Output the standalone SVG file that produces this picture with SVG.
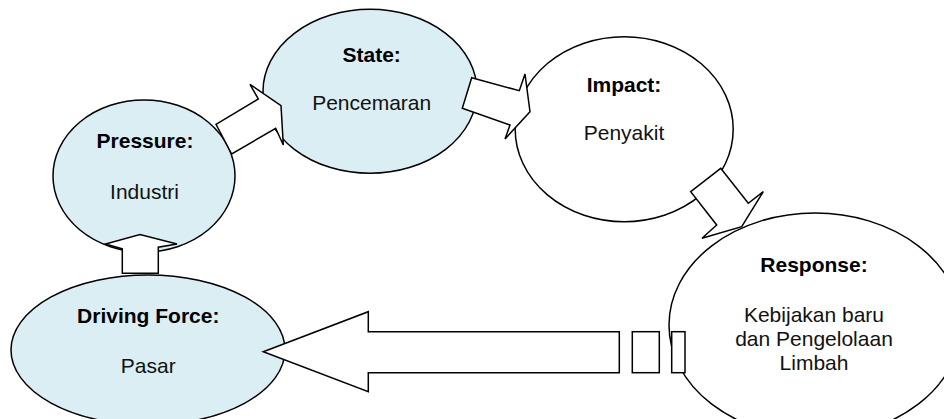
<svg xmlns="http://www.w3.org/2000/svg" width="944" height="419" viewBox="0 0 944 419">
  <style>
    .blue { fill: #DBEEF4; stroke: #000; stroke-width: 1.5; }
    .white { fill: #FFFFFF; stroke: #000; stroke-width: 1.5; }
    .arrow { fill: #FFFFFF; stroke: #000; stroke-width: 1.5; stroke-linejoin: miter; }
    .lbl { font-family: "Liberation Sans", Arial, sans-serif; font-size: 21px; font-weight: bold; fill: #000; text-anchor: middle; }
    .val { font-family: "Liberation Sans", Arial, sans-serif; font-size: 21px; fill: #111; text-anchor: middle; }
  </style>
  <rect x="0" y="0" width="944" height="419" fill="#FFFFFF"/>

  <g id="node-pressure">
    <ellipse class="blue" cx="144" cy="176" rx="91" ry="76"/>
    <text class="lbl" x="145" y="148">Pressure:</text>
    <text class="val" x="144.5" y="199">Industri</text>
  </g>

  <g id="node-state">
    <ellipse class="blue" cx="370" cy="91.3" rx="107" ry="82"/>
    <text class="lbl" x="371.7" y="61.7">State:</text>
    <text class="val" x="371.7" y="110">Pencemaran</text>
  </g>

  <g id="node-impact">
    <ellipse class="white" cx="624.2" cy="129.2" rx="109" ry="92.5"/>
    <text class="lbl" x="624" y="91.7">Impact:</text>
    <text class="val" x="624" y="140">Penyakit</text>
  </g>

  <g id="node-response">
    <ellipse class="white" cx="815" cy="325" rx="146" ry="112"/>
    <text class="lbl" x="814" y="271.7">Response:</text>
    <text class="val" x="814" y="321.5">Kebijakan baru</text>
    <text class="val" x="814" y="345.5">dan Pengelolaan</text>
    <text class="val" x="814" y="369.5">Limbah</text>
  </g>

  <g id="node-driving-force">
    <ellipse class="blue" cx="148" cy="350" rx="137" ry="75"/>
    <text class="lbl" x="148.3" y="323.3">Driving Force:</text>
    <text class="val" x="148.3" y="372.7">Pasar</text>
  </g>

  <g id="connectors">
    <polygon id="arrow-pressure-state" class="arrow" points="216,124.3 258.3,99 250,84.3 281,105.7 283.3,145 275.7,128.3 231.7,154"/>
    <polygon id="arrow-state-impact" class="arrow" points="471.7,77.7 519.3,90.7 525,74 530,111.7 505,139 510,125 462.3,108.3"/>
    <polygon id="arrow-impact-response" class="arrow" points="720.7,168.3 748.3,203.3 763.3,191.7 741.7,226.7 702,238.3 716.7,225 690.7,191.7"/>
    <polygon id="arrow-driving-pressure" class="arrow" points="122.3,273.3 122.3,248.8 105.5,244 140,234.5 177,244 158.3,247.2 158.3,273.3"/>
    <g id="arrow-response-driving">
      <polygon class="arrow" points="263.3,351.7 368.3,311.7 368.3,331.7 619.3,331.7 619.3,372.7 368.3,372.7 368.3,391.7"/>
      <rect class="arrow" x="632.3" y="331.7" width="27" height="41"/>
      <rect class="arrow" x="671.7" y="331.7" width="13.3" height="41"/>
    </g>
  </g>
</svg>
